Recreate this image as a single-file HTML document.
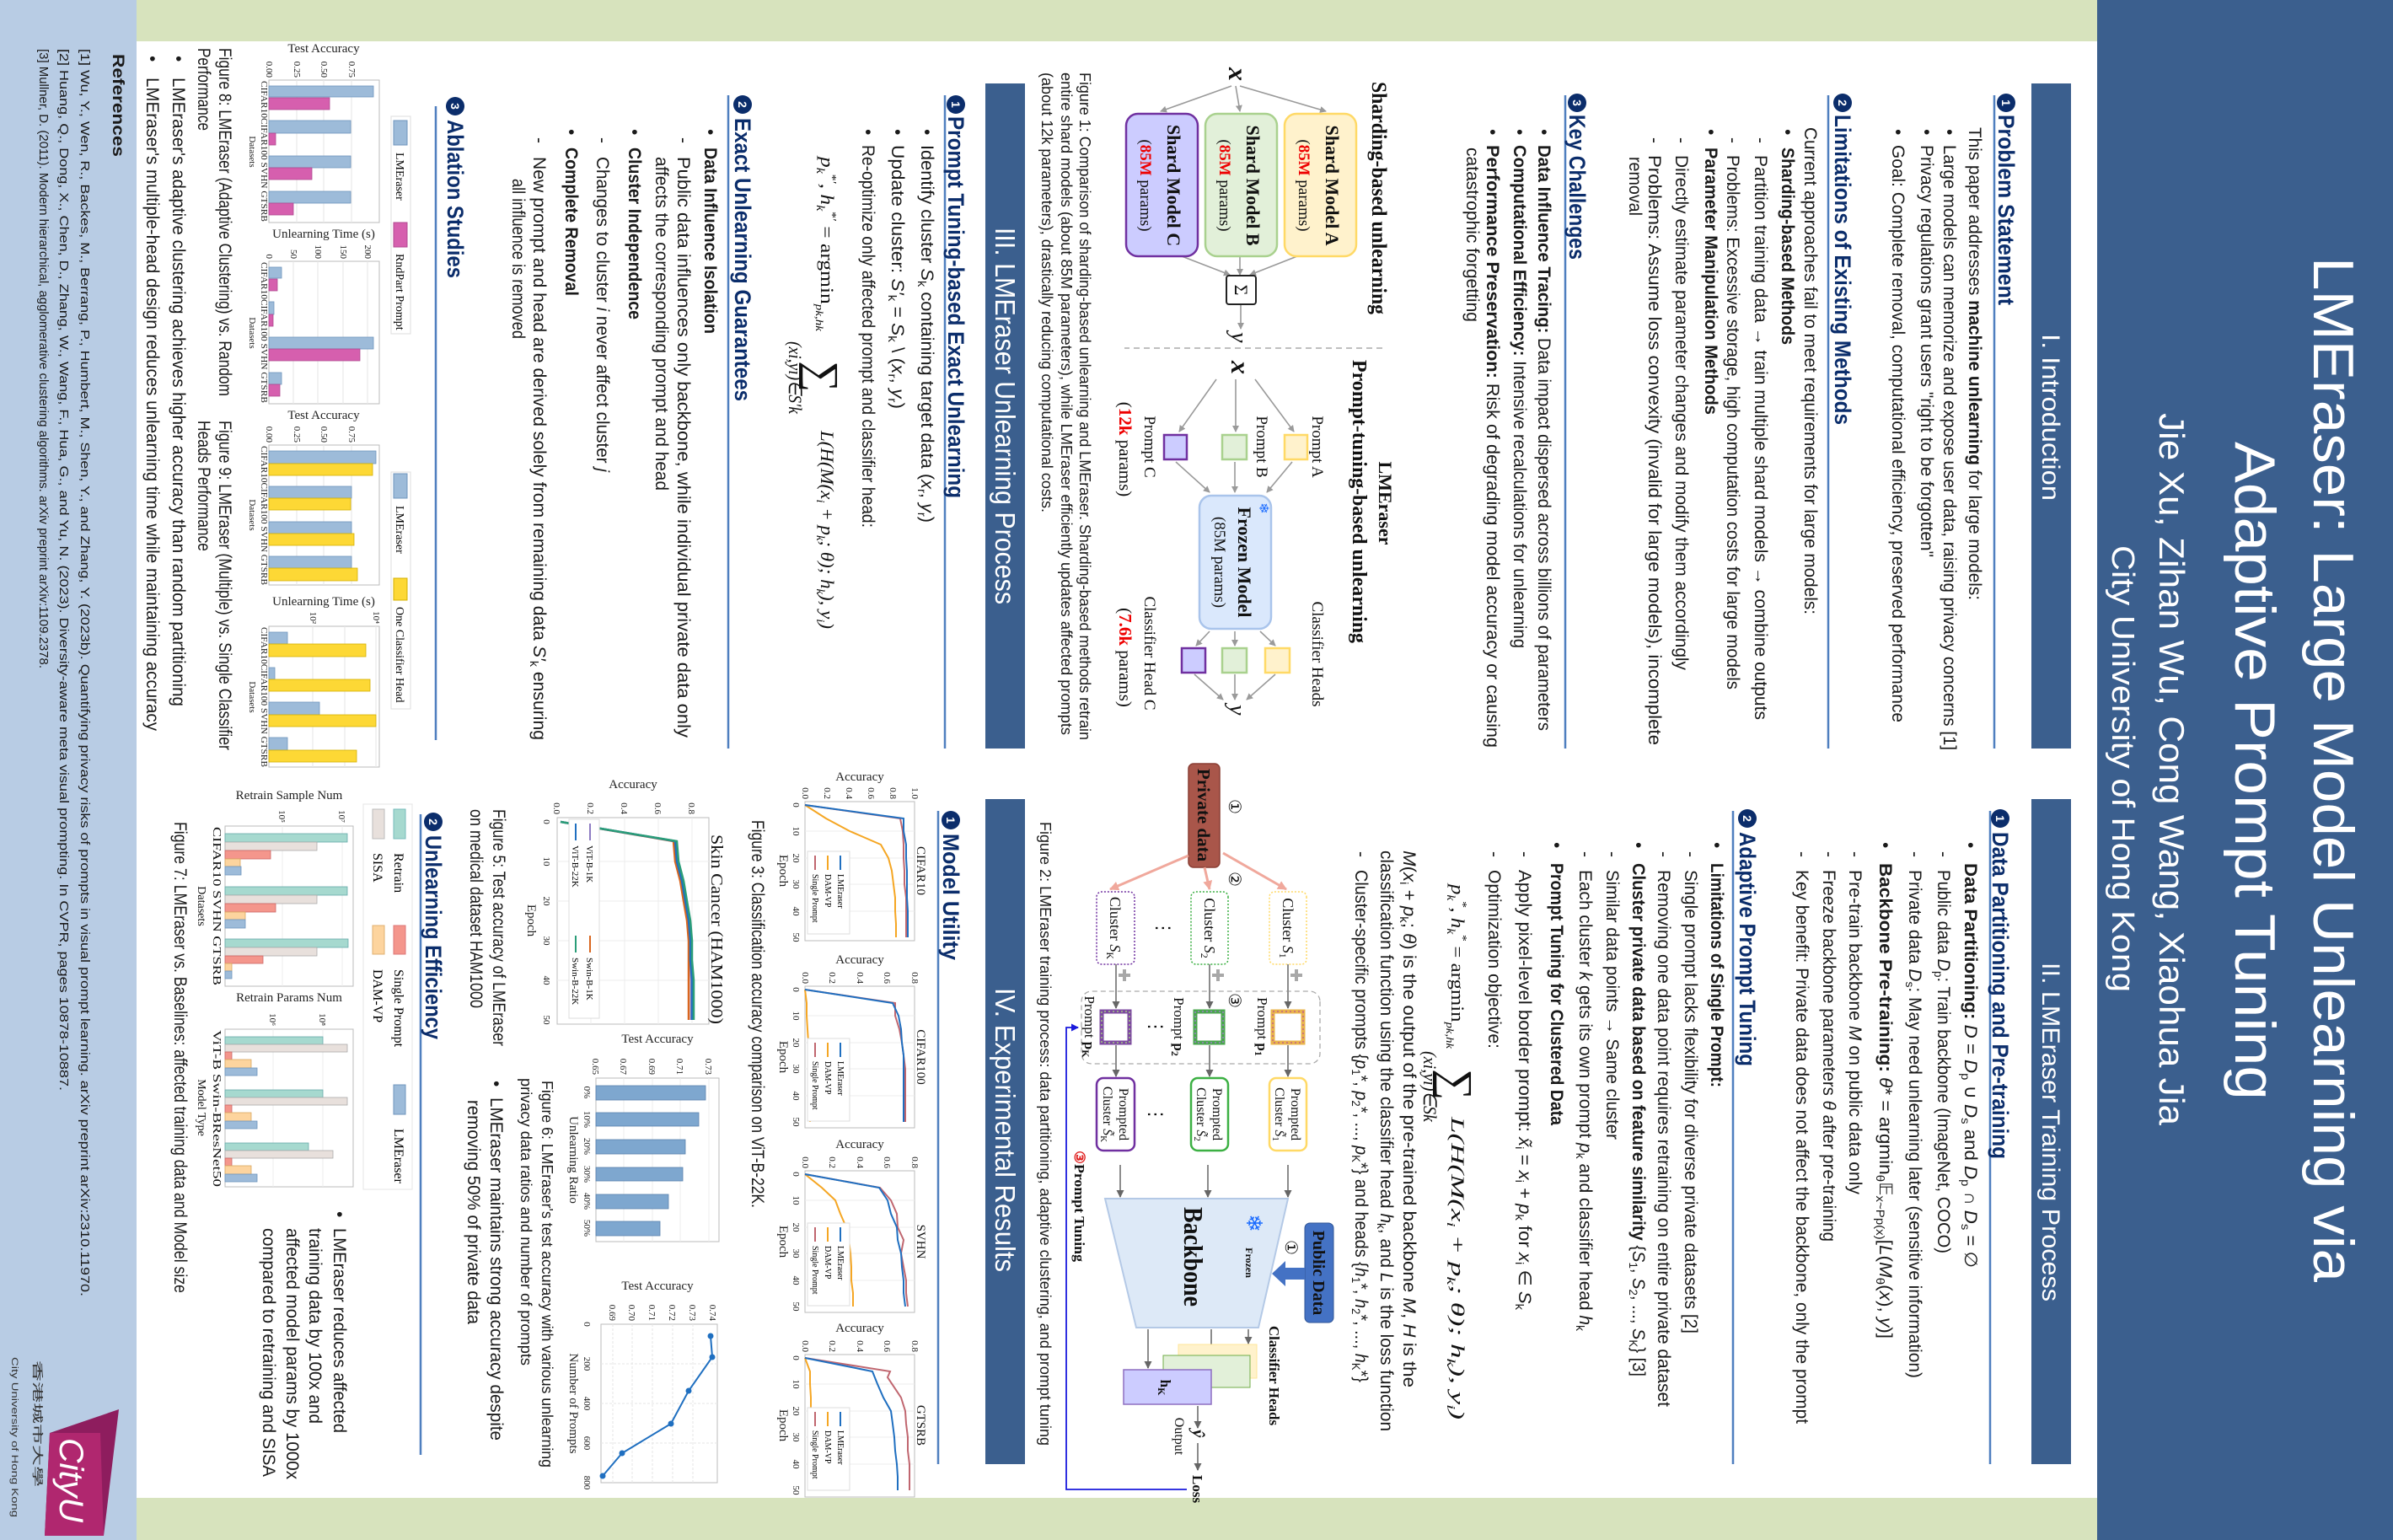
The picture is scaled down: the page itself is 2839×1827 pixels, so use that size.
<!DOCTYPE html>
<html><head><meta charset="utf-8"><style>
html,body{margin:0;padding:0;background:#fff}
svg{display:block}
.b{font-family:"Liberation Sans",sans-serif;font-size:21px;fill:#1a1a1a}
.bb{font-family:"Liberation Sans",sans-serif;font-size:21px;fill:#1a1a1a;font-weight:bold}
.h{font-family:"Liberation Sans",sans-serif;font-size:27px;font-weight:bold;fill:#0b2d6b}
.cap{font-family:"Liberation Sans",sans-serif;font-size:18px;fill:#1a1a1a}
.sr{font-family:"Liberation Serif",serif;fill:#111}
.m{font-family:"Liberation Serif",serif;font-style:italic;font-size:22px;fill:#111}
.tk{font-family:"Liberation Serif",serif;font-size:11px;fill:#222}
.ax{font-family:"Liberation Serif",serif;font-size:15px;fill:#222}
.hn{font-family:"Liberation Sans",sans-serif;font-size:14px;font-weight:bold;fill:#fff}
</style></head><body>
<svg width="2839" height="1827" viewBox="0 0 2839 1827" xmlns="http://www.w3.org/2000/svg">
<defs>
<marker id="ag" markerWidth="8" markerHeight="8" refX="7" refY="4" orient="auto" markerUnits="userSpaceOnUse"><path d="M0,0 L8,4 L0,8 z" fill="#9a9a9a"/></marker>
<marker id="ak" markerWidth="9" markerHeight="9" refX="8" refY="4.5" orient="auto" markerUnits="userSpaceOnUse"><path d="M0,0 L9,4.5 L0,9 z" fill="#666"/></marker>
<marker id="ar" markerWidth="11" markerHeight="11" refX="10" refY="5.5" orient="auto" markerUnits="userSpaceOnUse"><path d="M0,0 L11,5.5 L0,11 z" fill="#f0a89c"/></marker>
<marker id="ab" markerWidth="9" markerHeight="9" refX="8" refY="4.5" orient="auto" markerUnits="userSpaceOnUse"><path d="M0,0 L9,4.5 L0,9 z" fill="#1a1adc"/></marker>
</defs>
<g transform="translate(2839,0) rotate(90)">
<rect x="0" y="0" width="1827" height="2839" fill="#fff"/>
<rect x="0" y="0" width="1827" height="351" fill="#3b5f8e"/>
<rect x="0" y="351" width="49" height="2326" fill="#d7e3bd"/>
<rect x="1777" y="351" width="50" height="2326" fill="#d7e3bd"/>
<rect x="0" y="2677" width="1827" height="162" fill="#b8cce4"/>

<g fill="#fff" font-family="Liberation Sans, sans-serif">
<text x="305" y="94" font-size="68" textLength="1216" lengthAdjust="spacingAndGlyphs">LMEraser: Large Model Unlearning via</text>
<text x="524" y="187" font-size="68" textLength="781" lengthAdjust="spacingAndGlyphs">Adaptive Prompt Tuning</text>
<text x="490" y="277" font-size="42" textLength="845" lengthAdjust="spacingAndGlyphs">Jie Xu, Zihan Wu, Cong Wang, Xiaohua Jia</text>
<text x="647" y="333" font-size="38" textLength="530" lengthAdjust="spacingAndGlyphs">City University of Hong Kong</text>
</g>

<rect x="99" y="382" width="789" height="47" fill="#3b5f8e"/>
<rect x="948" y="382" width="789" height="47" fill="#3b5f8e"/>
<rect x="99" y="1623" width="789" height="47" fill="#3b5f8e"/>
<rect x="948" y="1623" width="789" height="47" fill="#3b5f8e"/>
<g fill="#fff" font-family="Liberation Sans, sans-serif" font-size="30">
<text x="396" y="416" textLength="198" lengthAdjust="spacingAndGlyphs">I. Introduction</text>
<text x="1142" y="416" textLength="402" lengthAdjust="spacingAndGlyphs">II. LMEraser Training Process</text>
<text x="270" y="1658" font-size="33" textLength="447" lengthAdjust="spacingAndGlyphs">III. LMEraser Unlearning Process</text>
<text x="1172" y="1658" font-size="33" textLength="337" lengthAdjust="spacingAndGlyphs">IV. Experimental Results</text>
</g>

<g stroke="#4f7fbf" stroke-width="2.5">
<line x1="113" y1="473" x2="888" y2="473"/><line x1="113" y1="670" x2="888" y2="670"/><line x1="113" y1="982" x2="888" y2="982"/>
<line x1="113" y1="1718" x2="888" y2="1718"/><line x1="113" y1="1975" x2="888" y2="1975"/><line x1="126" y1="2322" x2="878" y2="2322"/>
<line x1="962" y1="478" x2="1737" y2="478"/><line x1="962" y1="783" x2="1737" y2="783"/><line x1="962" y1="1726" x2="1737" y2="1726"/><line x1="966" y1="2340" x2="1726" y2="2340"/>
</g>
<g fill="#0b2d6b">
<circle cx="122" cy="459" r="11"/><circle cx="122" cy="653" r="11"/><circle cx="122" cy="968" r="11"/>
<circle cx="124" cy="1705" r="11"/><circle cx="124" cy="1958" r="11"/><circle cx="126" cy="2299" r="11"/>
<circle cx="971" cy="466" r="11"/><circle cx="971" cy="766" r="11"/><circle cx="973" cy="1711" r="11"/><circle cx="975" cy="2325" r="11"/>
</g>
<g class="hn" text-anchor="middle">
<text x="122" y="464" class="hn">1</text><text x="122" y="658" class="hn">2</text><text x="122" y="973" class="hn">3</text>
<text x="124" y="1710" class="hn">1</text><text x="124" y="1963" class="hn">2</text><text x="126" y="2304" class="hn">3</text>
<text x="971" y="471" class="hn">1</text><text x="971" y="771" class="hn">2</text><text x="973" y="1716" class="hn">1</text><text x="975" y="2330" class="hn">2</text>
</g>
<text class="h" x="136" y="468" textLength="226" lengthAdjust="spacingAndGlyphs">Problem Statement</text>
<text class="h" x="136" y="662" textLength="368" lengthAdjust="spacingAndGlyphs">Limitations of Existing Methods</text>
<text class="h" x="136" y="977" textLength="172" lengthAdjust="spacingAndGlyphs">Key Challenges</text>
<text class="h" x="138" y="1714" textLength="453" lengthAdjust="spacingAndGlyphs">Prompt Tuning-based Exact Unlearning</text>
<text class="h" x="140" y="1967" textLength="336" lengthAdjust="spacingAndGlyphs">Exact Unlearning Guarantees</text>
<text class="h" x="142" y="2308" textLength="188" lengthAdjust="spacingAndGlyphs">Ablation Studies</text>
<text class="h" x="987" y="475" textLength="388" lengthAdjust="spacingAndGlyphs">Data Partitioning and Pre-training</text>
<text class="h" x="987" y="775" textLength="278" lengthAdjust="spacingAndGlyphs">Adaptive Prompt Tuning</text>
<text class="h" x="989" y="1720" textLength="150" lengthAdjust="spacingAndGlyphs">Model Utility</text>
<text class="h" x="991" y="2334" textLength="242" lengthAdjust="spacingAndGlyphs">Unlearning Efficiency</text>

<text class="b" x="151" y="503" textLength="561" lengthAdjust="spacingAndGlyphs">This paper addresses <tspan font-weight="bold">machine unlearning</tspan> for large models:</text>
<text class="b" x="153" y="533">•</text><text class="b" x="172" y="533" textLength="718" lengthAdjust="spacingAndGlyphs">Large models can memorize and expose user data, raising privacy concerns [1]</text>
<text class="b" x="153" y="560">•</text><text class="b" x="172" y="560" textLength="489" lengthAdjust="spacingAndGlyphs">Privacy regulations grant users "right to be forgotten"</text>
<text class="b" x="153" y="594">•</text><text class="b" x="172" y="594" textLength="685" lengthAdjust="spacingAndGlyphs">Goal: Complete removal, computational efficiency, preserved performance</text>
<text class="b" x="151" y="698" textLength="578" lengthAdjust="spacingAndGlyphs">Current approaches fail to meet requirements for large models:</text>
<text class="b" x="153" y="725">•</text><text class="bb" x="175" y="725" textLength="234" lengthAdjust="spacingAndGlyphs">Sharding-based Methods</text>
<text class="b" x="163" y="757">-</text><text class="b" x="184" y="757" textLength="670" lengthAdjust="spacingAndGlyphs">Partition training data → train multiple shard models → combine outputs</text>
<text class="b" x="163" y="790">-</text><text class="b" x="184" y="790" textLength="634" lengthAdjust="spacingAndGlyphs">Problems: Excessive storage, high computation costs for large models</text>
<text class="b" x="153" y="816">•</text><text class="bb" x="175" y="816" textLength="317" lengthAdjust="spacingAndGlyphs">Parameter Manipulation Methods</text>
<text class="b" x="163" y="851">-</text><text class="b" x="184" y="851" textLength="611" lengthAdjust="spacingAndGlyphs">Directly estimate parameter changes and modify them accordingly</text>
<text class="b" x="163" y="883">-</text><text class="b" x="184" y="883" textLength="700" lengthAdjust="spacingAndGlyphs">Problems:  Assume  loss  convexity  (invalid  for  large  models),  incomplete</text>
<text class="b" x="186" y="906" textLength="70" lengthAdjust="spacingAndGlyphs">removal</text>
<text class="b" x="153" y="1014">•</text><text class="b" x="172" y="1014" textLength="695" lengthAdjust="spacingAndGlyphs"><tspan font-weight="bold">Data Influence Tracing:</tspan> Data impact dispersed across billions of parameters</text>
<text class="b" x="153" y="1043">•</text><text class="b" x="172" y="1043" textLength="597" lengthAdjust="spacingAndGlyphs"><tspan font-weight="bold">Computational Efficiency:</tspan> Intensive recalculations for unlearning</text>
<text class="b" x="153" y="1075">•</text><text class="b" x="172" y="1075" textLength="715" lengthAdjust="spacingAndGlyphs"><tspan font-weight="bold">Performance  Preservation:</tspan>  Risk  of  degrading  model  accuracy  or  causing</text>
<text class="b" x="175" y="1099" textLength="207" lengthAdjust="spacingAndGlyphs">catastrophic forgetting</text>

<!-- Figure 1 -->
<text class="sr" x="97" y="1211" font-size="25" font-weight="bold" textLength="276" lengthAdjust="spacingAndGlyphs">Sharding-based unlearning</text>
<text class="sr" x="597" y="1203" font-size="22" font-weight="bold" text-anchor="middle">LMEraser</text>
<text class="sr" x="427" y="1234" font-size="24" font-weight="bold" textLength="336" lengthAdjust="spacingAndGlyphs">Prompt-tuning-based unlearning</text>
<line x1="413" y1="1199" x2="413" y2="1505" stroke="#aaa" stroke-width="1.5" stroke-dasharray="7,5"/>
<text class="sr" x="80" y="1381" font-size="32" font-style="italic" font-weight="bold">x</text>
<g stroke="#9a9a9a" stroke-width="1.6" fill="none" marker-end="url(#ag)">
<line x1="102" y1="1368" x2="132" y2="1266"/><line x1="102" y1="1373" x2="132" y2="1368"/><line x1="102" y1="1378" x2="132" y2="1462"/>
<line x1="304" y1="1300" x2="326" y2="1356"/><line x1="304" y1="1368" x2="326" y2="1368"/><line x1="304" y1="1437" x2="326" y2="1380"/>
<line x1="361" y1="1367" x2="390" y2="1367"/>
</g>
<rect x="135" y="1230" width="169" height="85" rx="14" fill="#fff2cc" stroke="#ffd966" stroke-width="2.5"/>
<rect x="135" y="1324" width="169" height="85" rx="14" fill="#e2f0d9" stroke="#a9d18e" stroke-width="2.5"/>
<rect x="135" y="1418" width="169" height="85" rx="14" fill="#ccccff" stroke="#7030a0" stroke-width="2.5"/>
<g class="sr" text-anchor="middle">
<text x="220" y="1266" font-size="22" font-weight="bold">Shard Model A</text><text x="220" y="1298" font-size="19">(<tspan fill="#e00" font-weight="bold">85M</tspan> params)</text>
<text x="220" y="1360" font-size="22" font-weight="bold">Shard Model B</text><text x="220" y="1392" font-size="19">(<tspan fill="#e00" font-weight="bold">85M</tspan> params)</text>
<text x="220" y="1454" font-size="22" font-weight="bold">Shard Model C</text><text x="220" y="1486" font-size="19">(<tspan fill="#e00" font-weight="bold">85M</tspan> params)</text>
</g>
<rect x="327" y="1349" width="34" height="35" rx="3" fill="#fff" stroke="#222" stroke-width="2"/>
<text class="sr" x="344" y="1374" font-size="22" text-anchor="middle">Σ</text>
<text class="sr" x="394" y="1378" font-size="28" font-style="italic">y</text>
<text class="sr" x="428" y="1378" font-size="32" font-style="italic" font-weight="bold">x</text>
<g stroke="#9a9a9a" stroke-width="1.6" fill="none" marker-end="url(#ag)">
<line x1="450" y1="1350" x2="512" y2="1304"/><line x1="450" y1="1373" x2="512" y2="1373"/><line x1="450" y1="1396" x2="512" y2="1440"/>
<line x1="548" y1="1306" x2="584" y2="1336"/><line x1="548" y1="1374" x2="584" y2="1374"/><line x1="548" y1="1444" x2="584" y2="1404"/>
<line x1="749" y1="1344" x2="766" y2="1326"/><line x1="749" y1="1374" x2="766" y2="1374"/><line x1="749" y1="1404" x2="766" y2="1420"/>
<line x1="800" y1="1326" x2="830" y2="1360"/><line x1="800" y1="1374" x2="830" y2="1374"/><line x1="800" y1="1422" x2="830" y2="1388"/>
</g>
<rect x="516" y="1288" width="29" height="27" fill="#fff2cc" stroke="#ffd966" stroke-width="2.5"/>
<rect x="516" y="1360" width="29" height="29" fill="#e2f0d9" stroke="#a9d18e" stroke-width="2.5"/>
<rect x="516" y="1431" width="29" height="27" fill="#ccccff" stroke="#7030a0" stroke-width="2.5"/>
<text class="sr" x="530" y="1282" font-size="19" text-anchor="middle">Prompt A</text>
<text class="sr" x="530" y="1348" font-size="19" text-anchor="middle">Prompt B</text>
<text class="sr" x="530" y="1481" font-size="19" text-anchor="middle">Prompt C</text>
<text class="sr" x="533" y="1511" font-size="21" text-anchor="middle">(<tspan fill="#e00" font-weight="bold">12k</tspan> params)</text>
<rect x="588" y="1331" width="158" height="85" rx="14" fill="#dae8fc" stroke="#a9c4eb" stroke-width="2.5"/>
<text x="603" y="1345" font-size="16" fill="#1a6bff" text-anchor="middle">❄</text>
<text class="sr" x="667" y="1370" font-size="22" font-weight="bold" text-anchor="middle">Frozen Model</text>
<text class="sr" x="667" y="1398" font-size="19" text-anchor="middle">(85M params)</text>
<rect x="769" y="1309" width="29" height="29" fill="#fff2cc" stroke="#ffd966" stroke-width="2.5"/>
<rect x="769" y="1360" width="29" height="29" fill="#e2f0d9" stroke="#a9d18e" stroke-width="2.5"/>
<rect x="769" y="1409" width="29" height="28" fill="#ccccff" stroke="#7030a0" stroke-width="2.5"/>
<text class="sr" x="776" y="1282" font-size="19" text-anchor="middle">Classifier Heads</text>
<text class="sr" x="836" y="1380" font-size="28" font-style="italic">y</text>
<text class="sr" x="775" y="1481" font-size="19" text-anchor="middle">Classifier Head C</text>
<text class="sr" x="780" y="1511" font-size="21" text-anchor="middle">(<tspan fill="#e00" font-weight="bold">7.6k</tspan> params)</text>
<text class="cap" x="86" y="1558" textLength="792" lengthAdjust="spacingAndGlyphs">Figure 1: Comparison of sharding-based unlearning and LMEraser. Sharding-based methods retrain</text>
<text class="cap" x="86" y="1580" textLength="786" lengthAdjust="spacingAndGlyphs">entire shard models (about 85M parameters), while LMEraser efficiently updates affected prompts</text>
<text class="cap" x="86" y="1603" textLength="522" lengthAdjust="spacingAndGlyphs">(about 12k parameters), drastically reducing computational costs.</text>

<text class="b" x="153" y="1746">•</text><text class="b" x="172" y="1746" textLength="448" lengthAdjust="spacingAndGlyphs">Identify cluster <tspan font-style="italic">S</tspan><tspan font-size="14" dy="4">k</tspan><tspan dy="-4"> containing target data (</tspan><tspan font-style="italic">x</tspan><tspan font-size="14" dy="4">r</tspan><tspan dy="-4">, </tspan><tspan font-style="italic">y</tspan><tspan font-size="14" dy="4">r</tspan><tspan dy="-4">)</tspan></text>
<text class="b" x="153" y="1781">•</text><text class="b" x="172" y="1781" textLength="313" lengthAdjust="spacingAndGlyphs">Update cluster: <tspan font-style="italic">S′</tspan><tspan font-size="14" dy="4">k</tspan><tspan dy="-4"> = </tspan><tspan font-style="italic">S</tspan><tspan font-size="14" dy="4">k</tspan><tspan dy="-4"> \ (</tspan><tspan font-style="italic">x</tspan><tspan font-size="14" dy="4">r</tspan><tspan dy="-4">, </tspan><tspan font-style="italic">y</tspan><tspan font-size="14" dy="4">r</tspan><tspan dy="-4">)</tspan></text>
<text class="b" x="153" y="1816">•</text><text class="b" x="172" y="1816" textLength="454" lengthAdjust="spacingAndGlyphs">Re-optimize only affected prompt and classifier head:</text>
<text class="m" x="186" y="1865" textLength="207" lengthAdjust="spacingAndGlyphs">p<tspan font-size="14" dy="5">k</tspan><tspan font-size="14" dy="-14">*′</tspan><tspan dy="9">, h</tspan><tspan font-size="14" dy="5">k</tspan><tspan font-size="14" dy="-14">*′</tspan><tspan dy="9" font-style="normal"> = argmin</tspan><tspan font-size="13" dy="6">pk,hk</tspan></text>
<text class="sr" x="428" y="1880" font-size="52">∑</text>
<text class="m" x="405" y="1903" font-size="13" textLength="86" lengthAdjust="spacingAndGlyphs">(xi,yi)∈S′k</text>
<text class="m" x="511" y="1865" textLength="235" lengthAdjust="spacingAndGlyphs">L(H(M(x<tspan font-size="14" dy="5">i</tspan><tspan dy="-5"> + p</tspan><tspan font-size="14" dy="5">k</tspan><tspan dy="-5">; θ); h</tspan><tspan font-size="14" dy="5">k</tspan><tspan dy="-5">), y</tspan><tspan font-size="14" dy="5">i</tspan><tspan dy="-5">)</tspan></text>

<text class="b" x="153" y="2003">•</text><text class="bb" x="175" y="2003" textLength="221" lengthAdjust="spacingAndGlyphs">Data Influence Isolation</text>
<text class="b" x="163" y="2035">-</text><text class="b" x="186" y="2035" textLength="689" lengthAdjust="spacingAndGlyphs">Public  data  influences  only  backbone,  while  individual  private  data  only</text>
<text class="b" x="186" y="2061" textLength="396" lengthAdjust="spacingAndGlyphs">affects the corresponding prompt and head</text>
<text class="b" x="153" y="2093">•</text><text class="bb" x="175" y="2093" textLength="204" lengthAdjust="spacingAndGlyphs">Cluster Independence</text>
<text class="b" x="163" y="2131">-</text><text class="b" x="186" y="2131" textLength="374" lengthAdjust="spacingAndGlyphs">Changes to cluster <tspan font-style="italic">i</tspan> never affect cluster <tspan font-style="italic">j</tspan></text>
<text class="b" x="153" y="2168">•</text><text class="bb" x="175" y="2168" textLength="176" lengthAdjust="spacingAndGlyphs">Complete Removal</text>
<text class="b" x="163" y="2206">-</text><text class="b" x="186" y="2206" textLength="692" lengthAdjust="spacingAndGlyphs">New prompt and head are derived solely from remaining data <tspan font-style="italic">S′</tspan><tspan font-size="14" dy="4">k</tspan><tspan dy="-4"> ensuring</tspan></text>
<text class="b" x="212" y="2231" textLength="190" lengthAdjust="spacingAndGlyphs">all influence is removed</text>

<!-- Fig 8/9 -->
<g font-family="Liberation Serif, serif">
<rect x="138" y="2352" width="258" height="23" fill="#fff" stroke="#ddd"/>
<rect x="143" y="2356" width="29" height="16" fill="#9dbbd9" stroke="#6f95bd"/><text x="181" y="2369" font-size="14">LMEraser</text>
<rect x="264" y="2356" width="29" height="16" fill="#d65fae" stroke="#b04890"/><text x="301" y="2369" font-size="14">RndPart Prompt</text>
<rect x="560" y="2352" width="281" height="23" fill="#fff" stroke="#ddd"/>
<rect x="562" y="2356" width="29" height="16" fill="#9dbbd9" stroke="#6f95bd"/><text x="600" y="2369" font-size="14">LMEraser</text>
<rect x="686" y="2356" width="26" height="16" fill="#fdd835" stroke="#d4b000"/><text x="720" y="2369" font-size="14">One Classifier Head</text>
</g>
<g fill="none" stroke="#bbb" stroke-width="1">
<rect x="95" y="2389" width="169" height="131"/><rect x="310" y="2389" width="169" height="131"/>
<rect x="528" y="2389" width="166" height="131"/><rect x="743" y="2389" width="167" height="131"/>
</g>
<g stroke="#e6e6e6" stroke-width="1">
<line x1="95" y1="2487" x2="264" y2="2487"/><line x1="95" y1="2455" x2="264" y2="2455"/><line x1="95" y1="2422" x2="264" y2="2422"/>
<line x1="310" y1="2491" x2="479" y2="2491"/><line x1="310" y1="2462" x2="479" y2="2462"/><line x1="310" y1="2432" x2="479" y2="2432"/><line x1="310" y1="2403" x2="479" y2="2403"/>
<line x1="528" y1="2487" x2="694" y2="2487"/><line x1="528" y1="2455" x2="694" y2="2455"/><line x1="528" y1="2422" x2="694" y2="2422"/>
<line x1="743" y1="2468" x2="910" y2="2468"/><line x1="743" y1="2430" x2="910" y2="2430"/><line x1="743" y1="2393" x2="910" y2="2393"/>
</g>
<g stroke="#6f95bd" stroke-width="0.8" fill="#9dbbd9">
<rect x="102" y="2396" width="13" height="124"/><rect x="143" y="2423" width="15" height="97"/><rect x="185" y="2423" width="14" height="97"/><rect x="227" y="2423" width="14" height="97"/>
<rect x="317" y="2505" width="13" height="15"/><rect x="358" y="2514" width="15" height="6"/><rect x="400" y="2396" width="14" height="124"/><rect x="442" y="2505" width="14" height="15"/>
<rect x="535" y="2393" width="15" height="127"/><rect x="577" y="2422" width="14" height="98"/><rect x="619" y="2422" width="14" height="98"/><rect x="660" y="2422" width="14" height="98"/>
<rect x="750" y="2498" width="14" height="22"/><rect x="792" y="2513" width="14" height="7"/><rect x="833" y="2460" width="15" height="60"/><rect x="875" y="2498" width="15" height="22"/>
</g>
<g fill="#d65fae" stroke="#b04890" stroke-width="0.8">
<rect x="116" y="2448" width="14" height="72"/><rect x="158" y="2512" width="14" height="8"/><rect x="199" y="2469" width="14" height="51"/><rect x="241" y="2491" width="14" height="29"/>
<rect x="331" y="2510" width="14" height="10"/><rect x="373" y="2515" width="14" height="5"/><rect x="414" y="2412" width="14" height="108"/><rect x="456" y="2507" width="14" height="13"/>
</g>
<g fill="#fdd835" stroke="#d4b000" stroke-width="0.8">
<rect x="550" y="2397" width="14" height="123"/><rect x="591" y="2423" width="14" height="97"/><rect x="633" y="2419" width="14" height="101"/><rect x="674" y="2415" width="15" height="105"/>
<rect x="764" y="2405" width="15" height="115"/><rect x="806" y="2400" width="14" height="120"/><rect x="848" y="2393" width="14" height="127"/><rect x="890" y="2416" width="14" height="104"/>
</g>
<g class="tk" text-anchor="end">
<text x="92" y="2523">0.00</text><text x="92" y="2490">0.25</text><text x="92" y="2458">0.50</text><text x="92" y="2425">0.75</text>
<text x="307" y="2523">0</text><text x="307" y="2494">50</text><text x="307" y="2465">100</text><text x="307" y="2435">150</text><text x="307" y="2406">200</text>
<text x="525" y="2523">0.00</text><text x="525" y="2490">0.25</text><text x="525" y="2458">0.50</text><text x="525" y="2425">0.75</text>
<text x="740" y="2471">10²</text><text x="740" y="2396">10⁴</text>
</g>
<g class="tk" font-size="9">
<text x="96" y="2529" textLength="167" lengthAdjust="spacingAndGlyphs">CIFAR10CIFAR100  SVHN   GTSRB</text>
<text x="311" y="2529" textLength="167" lengthAdjust="spacingAndGlyphs">CIFAR10CIFAR100  SVHN   GTSRB</text>
<text x="529" y="2529" textLength="165" lengthAdjust="spacingAndGlyphs">CIFAR10CIFAR100  SVHN   GTSRB</text>
<text x="744" y="2529" textLength="166" lengthAdjust="spacingAndGlyphs">CIFAR10CIFAR100  SVHN   GTSRB</text>
</g>
<g class="tk" font-size="12" text-anchor="middle">
<text x="180" y="2543">Datasets</text><text x="395" y="2543">Datasets</text><text x="611" y="2543">Datasets</text><text x="827" y="2543">Datasets</text>
</g>
<g class="ax" text-anchor="middle">
<text transform="rotate(-90 62 2455)" x="62" y="2455">Test Accuracy</text>
<text transform="rotate(-90 282 2455)" x="282" y="2455">Unlearning Time (s)</text>
<text transform="rotate(-90 497 2455)" x="497" y="2455">Test Accuracy</text>
<text transform="rotate(-90 718 2455)" x="718" y="2455">Unlearning Time (s)</text>
</g>
<text class="b" x="57" y="2579" font-size="20" textLength="413" lengthAdjust="spacingAndGlyphs">Figure 8: LMEraser (Adaptive Clustering) vs. Random</text>
<text class="b" x="57" y="2604" font-size="20" textLength="98" lengthAdjust="spacingAndGlyphs">Performance</text>
<text class="b" x="499" y="2579" font-size="20" textLength="391" lengthAdjust="spacingAndGlyphs">Figure 9: LMEraser (Multiple) vs. Single Classifier</text>
<text class="b" x="499" y="2604" font-size="20" textLength="155" lengthAdjust="spacingAndGlyphs">Heads Performance</text>
<text class="b" x="66" y="2634">•</text><text class="b" x="92" y="2634" textLength="746" lengthAdjust="spacingAndGlyphs">LMEraser's adaptive clustering achieves higher accuracy than random partitioning</text>
<text class="b" x="66" y="2665">•</text><text class="b" x="92" y="2665" textLength="775" lengthAdjust="spacingAndGlyphs">LMEraser's multiple-head design reduces unlearning time while maintaining accuracy</text>

<!-- RIGHT COLUMN -->
<text class="b" x="999" y="508">•</text><text class="b" x="1024" y="508" textLength="480" lengthAdjust="spacingAndGlyphs"><tspan font-weight="bold">Data Partitioning:</tspan>    <tspan font-style="italic">D</tspan> = <tspan font-style="italic">D</tspan><tspan font-size="14" dy="4">p</tspan><tspan dy="-4"> ∪ </tspan><tspan font-style="italic">D</tspan><tspan font-size="14" dy="4">s</tspan><tspan dy="-4"> and </tspan><tspan font-style="italic">D</tspan><tspan font-size="14" dy="4">p</tspan><tspan dy="-4"> ∩ </tspan><tspan font-style="italic">D</tspan><tspan font-size="14" dy="4">s</tspan><tspan dy="-4"> = ∅</tspan></text>
<text class="b" x="1010" y="540">-</text><text class="b" x="1032" y="540" textLength="455" lengthAdjust="spacingAndGlyphs">Public data <tspan font-style="italic">D</tspan><tspan font-size="14" dy="4">p</tspan><tspan dy="-4">: Train backbone (ImageNet, COCO)</tspan></text>
<text class="b" x="1010" y="574">-</text><text class="b" x="1032" y="574" textLength="603" lengthAdjust="spacingAndGlyphs">Private data <tspan font-style="italic">D</tspan><tspan font-size="14" dy="4">s</tspan><tspan dy="-4">: May need unlearning later (sensitive information)</tspan></text>
<text class="b" x="999" y="609">•</text><text class="b" x="1024" y="609" textLength="564" lengthAdjust="spacingAndGlyphs"><tspan font-weight="bold">Backbone Pre-training:</tspan> <tspan font-style="italic">θ</tspan>* = argmin<tspan font-size="14" dy="4">θ</tspan><tspan dy="-4">𝔼</tspan><tspan font-size="14" dy="4">x~Pp(x)</tspan><tspan dy="-4">[</tspan><tspan font-style="italic">L</tspan>(<tspan font-style="italic">M</tspan><tspan font-size="14" dy="4">θ</tspan><tspan dy="-4">(</tspan><tspan font-style="italic">x</tspan>), <tspan font-style="italic">y</tspan>)]</text>
<text class="b" x="1010" y="645">-</text><text class="b" x="1032" y="645" textLength="385" lengthAdjust="spacingAndGlyphs">Pre-train backbone <tspan font-style="italic">M</tspan> on public data only</text>
<text class="b" x="1010" y="676">-</text><text class="b" x="1032" y="676" textLength="441" lengthAdjust="spacingAndGlyphs">Freeze backbone parameters <tspan font-style="italic">θ</tspan> after pre-training</text>
<text class="b" x="1010" y="708">-</text><text class="b" x="1032" y="708" textLength="657" lengthAdjust="spacingAndGlyphs">Key benefit: Private data does not affect the backbone, only the prompt</text>
<text class="b" x="999" y="809">•</text><text class="bb" x="1024" y="809" textLength="266" lengthAdjust="spacingAndGlyphs">Limitations of Single Prompt:</text>
<text class="b" x="1010" y="840">-</text><text class="b" x="1032" y="840" textLength="550" lengthAdjust="spacingAndGlyphs">Single prompt lacks flexibility for diverse private datasets [2]</text>
<text class="b" x="1010" y="872">-</text><text class="b" x="1032" y="872" textLength="637" lengthAdjust="spacingAndGlyphs">Removing one data point requires retraining on entire private dataset</text>
<text class="b" x="999" y="902">•</text><text class="b" x="1024" y="902" textLength="609" lengthAdjust="spacingAndGlyphs"><tspan font-weight="bold">Cluster private data based on feature similarity</tspan>  {<tspan font-style="italic">S</tspan><tspan font-size="14" dy="4">1</tspan><tspan dy="-4">, </tspan><tspan font-style="italic">S</tspan><tspan font-size="14" dy="4">2</tspan><tspan dy="-4">, ..., </tspan><tspan font-style="italic">S</tspan><tspan font-size="14" dy="4">K</tspan><tspan dy="-4">} [3]</tspan></text>
<text class="b" x="1010" y="933">-</text><text class="b" x="1032" y="933" textLength="320" lengthAdjust="spacingAndGlyphs">Similar data points → Same cluster</text>
<text class="b" x="1010" y="965">-</text><text class="b" x="1032" y="965" textLength="547" lengthAdjust="spacingAndGlyphs">Each cluster <tspan font-style="italic">k</tspan> gets its own prompt <tspan font-style="italic">p</tspan><tspan font-size="14" dy="4">k</tspan><tspan dy="-4"> and classifier head </tspan><tspan font-style="italic">h</tspan><tspan font-size="14" dy="4">k</tspan></text>
<text class="b" x="999" y="999">•</text><text class="bb" x="1024" y="999" textLength="311" lengthAdjust="spacingAndGlyphs">Prompt Tuning for Clustered Data</text>
<text class="b" x="1010" y="1037">-</text><text class="b" x="1032" y="1037" textLength="522" lengthAdjust="spacingAndGlyphs">Apply pixel-level border prompt: <tspan font-style="italic">x̃</tspan><tspan font-size="14" dy="4">i</tspan><tspan dy="-4"> = </tspan><tspan font-style="italic">x</tspan><tspan font-size="14" dy="4">i</tspan><tspan dy="-4"> + </tspan><tspan font-style="italic">p</tspan><tspan font-size="14" dy="4">k</tspan><tspan dy="-4"> for </tspan><tspan font-style="italic">x</tspan><tspan font-size="14" dy="4">i</tspan><tspan dy="-4"> ∈ </tspan><tspan font-style="italic">S</tspan><tspan font-size="14" dy="4">k</tspan></text>
<text class="b" x="1010" y="1073">-</text><text class="b" x="1032" y="1073" textLength="212" lengthAdjust="spacingAndGlyphs">Optimization objective:</text>
<text class="m" x="1049" y="1117" textLength="195" lengthAdjust="spacingAndGlyphs">p<tspan font-size="14" dy="5">k</tspan><tspan font-size="14" dy="-14">*</tspan><tspan dy="9">, h</tspan><tspan font-size="14" dy="5">k</tspan><tspan font-size="14" dy="-14">*</tspan><tspan dy="9" font-style="normal"> = argmin</tspan><tspan font-size="13" dy="6">pk,hk</tspan></text>
<text class="sr" x="1268" y="1128" font-size="52">∑</text>
<text class="m" x="1247" y="1150" font-size="13" textLength="84" lengthAdjust="spacingAndGlyphs">(xi,yi)∈Sk</text>
<text class="m" x="1325" y="1117" textLength="359" lengthAdjust="spacingAndGlyphs">L(H(M(x<tspan font-size="14" dy="5">i</tspan><tspan dy="-5"> + p</tspan><tspan font-size="14" dy="5">k</tspan><tspan dy="-5">; θ); h</tspan><tspan font-size="14" dy="5">k</tspan><tspan dy="-5">), y</tspan><tspan font-size="14" dy="5">i</tspan><tspan dy="-5">)</tspan></text>
<text class="b" x="1009" y="1174" textLength="637" lengthAdjust="spacingAndGlyphs"><tspan font-style="italic">M</tspan>(<tspan font-style="italic">x</tspan><tspan font-size="14" dy="4">i</tspan><tspan dy="-4"> + </tspan><tspan font-style="italic">p</tspan><tspan font-size="14" dy="4">k</tspan><tspan dy="-4">; </tspan><tspan font-style="italic">θ</tspan>) is the output of the pre-trained backbone <tspan font-style="italic">M</tspan>, <tspan font-style="italic">H</tspan> is the</text>
<text class="b" x="1009" y="1201" textLength="689" lengthAdjust="spacingAndGlyphs">classification function using the classifier head <tspan font-style="italic">h</tspan><tspan font-size="14" dy="4">k</tspan><tspan dy="-4">, and </tspan><tspan font-style="italic">L</tspan> is the loss function</text>
<text class="b" x="1010" y="1231">-</text><text class="b" x="1032" y="1231" textLength="608" lengthAdjust="spacingAndGlyphs">Cluster-specific prompts {<tspan font-style="italic">p</tspan><tspan font-size="14" dy="4">1</tspan><tspan dy="-4">*, </tspan><tspan font-style="italic">p</tspan><tspan font-size="14" dy="4">2</tspan><tspan dy="-4">*, ..., </tspan><tspan font-style="italic">p</tspan><tspan font-size="14" dy="4">K</tspan><tspan dy="-4">*} and heads {</tspan><tspan font-style="italic">h</tspan><tspan font-size="14" dy="4">1</tspan><tspan dy="-4">*, </tspan><tspan font-style="italic">h</tspan><tspan font-size="14" dy="4">2</tspan><tspan dy="-4">*, ..., </tspan><tspan font-style="italic">h</tspan><tspan font-size="14" dy="4">K</tspan><tspan dy="-4">*}</tspan></text>

<!-- Figure 2 -->
<rect x="906" y="1392" width="123" height="37" rx="6" fill="#a9564a" stroke="#8a3e34" stroke-width="1.5"/>
<text class="sr" x="967" y="1418" font-size="21" font-weight="bold" fill="#fff" text-anchor="middle">Private data</text>
<g class="sr" fill="#e02020" font-size="20" text-anchor="middle">
<text x="957" y="1381">①</text><text x="1043" y="1381">②</text><text x="1187" y="1381">③</text><text x="1480" y="1314">①</text>
</g>
<g stroke="#f0a89c" stroke-width="3" fill="none" marker-end="url(#ar)">
<line x1="1012" y1="1388" x2="1055" y2="1313"/><line x1="1029" y1="1410" x2="1055" y2="1404"/><line x1="1015" y1="1429" x2="1055" y2="1522"/>
</g>
<rect x="1058" y="1289" width="86" height="44" rx="6" fill="#fff" stroke="#ffd966" stroke-width="1.5" stroke-dasharray="2,2"/>
<rect x="1058" y="1382" width="86" height="44" rx="6" fill="#fff" stroke="#3cb043" stroke-width="1.5" stroke-dasharray="2,2"/>
<rect x="1058" y="1493" width="86" height="45" rx="6" fill="#fff" stroke="#7030a0" stroke-width="1.5" stroke-dasharray="2,2"/>
<g class="sr" font-size="18" text-anchor="middle">
<text x="1101" y="1317">Cluster <tspan font-style="italic">S</tspan><tspan font-size="12" dy="4">1</tspan></text>
<text x="1101" y="1410">Cluster <tspan font-style="italic">S</tspan><tspan font-size="12" dy="4">2</tspan></text>
<text x="1101" y="1522">Cluster <tspan font-style="italic">S</tspan><tspan font-size="12" dy="4">K</tspan></text>
<text x="1101" y="1466" font-size="22">⋮</text><text x="1218" y="1475" font-size="22">⋮</text><text x="1322" y="1475" font-size="22">⋮</text>
</g>
<rect x="1176" y="1273" width="86" height="283" rx="12" fill="none" stroke="#aaa" stroke-width="1.3" stroke-dasharray="6,4"/>
<g stroke="#8c8c8c" stroke-width="2" fill="none" marker-end="url(#ak)">
<line x1="1144" y1="1311" x2="1196" y2="1311"/><line x1="1144" y1="1404" x2="1196" y2="1404"/><line x1="1144" y1="1515" x2="1196" y2="1515"/>
<line x1="1240" y1="1311" x2="1277" y2="1311"/><line x1="1240" y1="1404" x2="1277" y2="1404"/><line x1="1240" y1="1515" x2="1277" y2="1515"/>
<line x1="1382" y1="1311" x2="1420" y2="1311"/><line x1="1382" y1="1406" x2="1420" y2="1406"/><line x1="1382" y1="1510" x2="1420" y2="1510"/>
<line x1="1577" y1="1358" x2="1594" y2="1358"/><line x1="1577" y1="1402" x2="1606" y2="1402"/><line x1="1577" y1="1477" x2="1623" y2="1477"/>
<line x1="1668" y1="1418" x2="1694" y2="1418"/><line x1="1712" y1="1418" x2="1744" y2="1418"/>
</g>
<g stroke="#a8a8a8" stroke-width="4">
<line x1="1157" y1="1294" x2="1157" y2="1308"/><line x1="1150" y1="1301" x2="1164" y2="1301"/>
<line x1="1157" y1="1387" x2="1157" y2="1401"/><line x1="1150" y1="1394" x2="1164" y2="1394"/>
<line x1="1157" y1="1498" x2="1157" y2="1512"/><line x1="1150" y1="1505" x2="1164" y2="1505"/>
</g>
<g fill="#fff" stroke-width="5">
<rect x="1200" y="1293" width="37" height="36" stroke="#e9b44c"/>
<rect x="1200" y="1388" width="37" height="33" stroke="#4aa64e"/>
<rect x="1200" y="1499" width="37" height="33" stroke="#7d4aa0"/>
</g>
<g fill="none" stroke-width="2" stroke-dasharray="2,3">
<rect x="1200" y="1293" width="37" height="36" stroke="#c77"/><rect x="1200" y="1388" width="37" height="33" stroke="#88a"/><rect x="1200" y="1499" width="37" height="33" stroke="#9a8"/>
</g>
<g class="sr" font-size="17" text-anchor="middle">
<text x="1218" y="1347">Prompt <tspan font-weight="bold">p<tspan font-size="12" dy="3">1</tspan></tspan></text>
<text x="1218" y="1446">Prompt <tspan font-weight="bold">p<tspan font-size="12" dy="3">2</tspan></tspan></text>
<text x="1218" y="1552">Prompt <tspan font-weight="bold">p<tspan font-size="12" dy="3">K</tspan></tspan></text>
</g>
<rect x="1279" y="1289" width="86" height="44" rx="8" fill="#fff" stroke="#ffd966" stroke-width="2.5"/>
<rect x="1279" y="1382" width="86" height="44" rx="8" fill="#fff" stroke="#3cb043" stroke-width="2.5"/>
<rect x="1279" y="1493" width="86" height="45" rx="8" fill="#fff" stroke="#7030a0" stroke-width="2.5"/>
<g class="sr" font-size="16" text-anchor="middle">
<text x="1322" y="1307">Prompted</text><text x="1322" y="1326">Cluster <tspan font-style="italic">S̃</tspan><tspan font-size="11" dy="3">1</tspan></text>
<text x="1322" y="1400">Prompted</text><text x="1322" y="1419">Cluster <tspan font-style="italic">S̃</tspan><tspan font-size="11" dy="3">2</tspan></text>
<text x="1322" y="1511">Prompted</text><text x="1322" y="1530">Cluster <tspan font-style="italic">S̃</tspan><tspan font-size="11" dy="3">K</tspan></text>
</g>
<polygon points="1422,1311 1575,1346 1575,1491 1422,1528" fill="#dde9f7" stroke="#b4c9e6" stroke-width="2"/>
<text x="1451" y="1360" font-size="26" fill="#1a6bff" text-anchor="middle">❄</text>
<text class="sr" x="1498" y="1361" font-size="12" font-weight="bold" fill="#1a6bff" text-anchor="middle">Frozen</text>
<text class="sr" x="1491" y="1434" font-size="32" font-weight="bold" fill="#1f3864" text-anchor="middle" textLength="118" lengthAdjust="spacingAndGlyphs">Backbone</text>
<rect x="1451" y="1257" width="118" height="34" rx="6" fill="#4472c4" stroke="#2f5597"/>
<text class="sr" x="1510" y="1281" font-size="20" font-weight="bold" fill="#fff" text-anchor="middle">Public Data</text>
<path d="M1504,1291 L1518,1291 L1518,1314 L1526,1314 L1511,1330 L1496,1314 L1504,1314 Z" fill="#4472c4"/>
<rect x="1595" y="1348" width="40" height="93" fill="#fff2cc" stroke="#ffe699"/>
<rect x="1608" y="1356" width="38" height="103" fill="#e2f0d9" stroke="#70ad47"/>
<rect x="1625" y="1402" width="41" height="104" fill="#ccccff" stroke="#8e6fc0" stroke-width="1.5"/>
<text class="sr" x="1646" y="1462" font-size="17" font-weight="bold" text-anchor="middle">h<tspan font-size="12" dy="3">K</tspan></text>
<text class="sr" x="1632" y="1333" font-size="17" fill="#888" text-anchor="middle" font-weight="bold">Classifier Heads</text>
<text class="sr" x="1696" y="1424" font-size="21" font-style="italic" font-weight="bold">ŷ</text>
<text class="sr" x="1704" y="1445" font-size="16" text-anchor="middle">Output</text>
<text class="sr" x="1750" y="1424" font-size="17" font-weight="bold" fill="#1a1adc">Loss</text>
<polyline points="1767,1431 1767,1574 1219,1574 1219,1560" fill="none" stroke="#1a1adc" stroke-width="1.8" marker-end="url(#ab)"/>
<text class="sr" x="1365" y="1564" font-size="17" font-weight="bold" fill="#1a1adc" textLength="132" lengthAdjust="spacingAndGlyphs"><tspan fill="#e02020">③</tspan>Prompt Tuning</text>
<text class="cap" x="975" y="1605" textLength="740" lengthAdjust="spacingAndGlyphs">Figure 2: LMEraser training process: data partitioning, adaptive clustering, and prompt tuning</text>

<!-- Fig 3 -->
<g fill="none" stroke="#bbb"><rect x="951" y="1754" width="165" height="130"/><rect x="1170" y="1754" width="168" height="130"/><rect x="1389" y="1754" width="168" height="130"/><rect x="1607" y="1754" width="169" height="130"/></g>
<g stroke="#ececec">
<line x1="986" y1="1754" x2="986" y2="1884"/><line x1="1018" y1="1754" x2="1018" y2="1884"/><line x1="1049" y1="1754" x2="1049" y2="1884"/><line x1="1081" y1="1754" x2="1081" y2="1884"/>
<line x1="1205" y1="1754" x2="1205" y2="1884"/><line x1="1237" y1="1754" x2="1237" y2="1884"/><line x1="1268" y1="1754" x2="1268" y2="1884"/><line x1="1300" y1="1754" x2="1300" y2="1884"/>
<line x1="1424" y1="1754" x2="1424" y2="1884"/><line x1="1456" y1="1754" x2="1456" y2="1884"/><line x1="1487" y1="1754" x2="1487" y2="1884"/><line x1="1519" y1="1754" x2="1519" y2="1884"/>
<line x1="1642" y1="1754" x2="1642" y2="1884"/><line x1="1674" y1="1754" x2="1674" y2="1884"/><line x1="1705" y1="1754" x2="1705" y2="1884"/><line x1="1737" y1="1754" x2="1737" y2="1884"/>
</g>
<g fill="none" stroke-width="2">
<polyline stroke="#f5a623" points="955,1884 971,1859 986,1831 1002,1794 1018,1785 1033,1781 1049,1779 1065,1777 1081,1777 1096,1776 1112,1776"/>
<polyline stroke="#c0666f" points="955,1884 971,1771 986,1768 1002,1767 1018,1767 1033,1766 1049,1766 1065,1764 1081,1764 1096,1764 1112,1764"/>
<polyline stroke="#1f6fc0" points="955,1884 971,1767 986,1767 1002,1764 1018,1764 1033,1763 1049,1763 1065,1763 1081,1762 1096,1762 1112,1762"/>
<polyline stroke="#f5a623" points="1174,1884 1190,1882 1205,1882 1221,1881 1237,1880 1252,1879 1268,1879 1284,1878 1300,1878 1315,1878 1331,1878"/>
<polyline stroke="#c0666f" points="1174,1884 1190,1777 1205,1777 1221,1772 1237,1769 1252,1767 1268,1765 1284,1765 1300,1765 1315,1765 1331,1765"/>
<polyline stroke="#1f6fc0" points="1174,1884 1190,1780 1205,1773 1221,1770 1237,1769 1252,1767 1268,1767 1284,1767 1300,1767 1315,1767 1331,1767"/>
<polyline stroke="#f5a623" points="1393,1884 1409,1864 1424,1848 1440,1842 1456,1835 1471,1832 1487,1830 1503,1829 1519,1829 1534,1827 1550,1827"/>
<polyline stroke="#c0666f" points="1393,1884 1409,1795 1424,1782 1440,1775 1456,1774 1471,1767 1487,1770 1503,1767 1519,1764 1534,1764 1550,1762"/>
<polyline stroke="#1f6fc0" points="1393,1884 1409,1796 1424,1786 1440,1782 1456,1775 1471,1774 1487,1770 1503,1769 1519,1767 1534,1767 1550,1765"/>
<polyline stroke="#f5a623" points="1611,1884 1627,1878 1642,1878 1658,1877 1674,1877 1689,1877 1705,1876 1721,1876 1737,1876 1752,1876 1768,1876"/>
<polyline stroke="#c0666f" points="1611,1884 1627,1783 1634,1786 1658,1770 1674,1765 1689,1764 1705,1762 1721,1762 1737,1760 1752,1760 1768,1760"/>
<polyline stroke="#1f6fc0" points="1611,1884 1627,1804 1642,1798 1658,1791 1674,1782 1689,1780 1705,1778 1721,1777 1737,1775 1752,1774 1768,1774"/>
</g>
<g class="sr" font-size="15" text-anchor="middle">
<text x="1033" y="1751">CIFAR10</text><text x="1254" y="1751">CIFAR100</text><text x="1473" y="1751">SVHN</text><text x="1691" y="1751">GTSRB</text>
</g>
<g class="tk" text-anchor="end" font-size="10">
<text x="948" y="1887">0.0</text><text x="948" y="1861">0.2</text><text x="948" y="1835">0.4</text><text x="948" y="1809">0.6</text><text x="948" y="1783">0.8</text><text x="948" y="1757">1.0</text>
<text x="1167" y="1887">0.0</text><text x="1167" y="1855">0.2</text><text x="1167" y="1822">0.4</text><text x="1167" y="1790">0.6</text><text x="1167" y="1757">0.8</text>
<text x="1386" y="1887">0.0</text><text x="1386" y="1855">0.2</text><text x="1386" y="1822">0.4</text><text x="1386" y="1790">0.6</text><text x="1386" y="1757">0.8</text>
<text x="1604" y="1887">0.0</text><text x="1604" y="1855">0.2</text><text x="1604" y="1822">0.4</text><text x="1604" y="1790">0.6</text><text x="1604" y="1757">0.8</text>
</g>
<g class="tk" font-size="12" text-anchor="middle">
<text x="955" y="1898">0</text><text x="986" y="1898">10</text><text x="1018" y="1898">20</text><text x="1049" y="1898">30</text><text x="1081" y="1898">40</text><text x="1112" y="1898">50</text>
<text x="1174" y="1898">0</text><text x="1205" y="1898">10</text><text x="1237" y="1898">20</text><text x="1268" y="1898">30</text><text x="1300" y="1898">40</text><text x="1331" y="1898">50</text>
<text x="1393" y="1898">0</text><text x="1424" y="1898">10</text><text x="1456" y="1898">20</text><text x="1487" y="1898">30</text><text x="1519" y="1898">40</text><text x="1550" y="1898">50</text>
<text x="1611" y="1898">0</text><text x="1642" y="1898">10</text><text x="1674" y="1898">20</text><text x="1705" y="1898">30</text><text x="1737" y="1898">40</text><text x="1768" y="1898">50</text>
</g>
<g class="ax" font-size="14" text-anchor="middle">
<text x="1033" y="1914">Epoch</text><text x="1254" y="1914">Epoch</text><text x="1473" y="1914">Epoch</text><text x="1691" y="1914">Epoch</text>
<text transform="rotate(-90 926 1819)" x="926" y="1819">Accuracy</text><text transform="rotate(-90 1143 1819)" x="1143" y="1819">Accuracy</text>
<text transform="rotate(-90 1362 1819)" x="1362" y="1819">Accuracy</text><text transform="rotate(-90 1580 1819)" x="1580" y="1819">Accuracy</text>
</g>
<g font-family="Liberation Serif, serif" font-size="10">
<rect x="1010" y="1831" width="98" height="50" fill="#fff" stroke="#ddd"/>
<line x1="1015" y1="1842" x2="1032" y2="1842" stroke="#1f6fc0" stroke-width="2"/><text x="1037" y="1845">LMEraser</text>
<line x1="1015" y1="1857" x2="1032" y2="1857" stroke="#f5a623" stroke-width="2"/><text x="1037" y="1860">DAM-VP</text>
<line x1="1015" y1="1872" x2="1032" y2="1872" stroke="#c0666f" stroke-width="2"/><text x="1037" y="1875">Single Prompt</text>
<rect x="1232" y="1831" width="98" height="50" fill="#fff" stroke="#ddd"/>
<line x1="1237" y1="1842" x2="1254" y2="1842" stroke="#1f6fc0" stroke-width="2"/><text x="1259" y="1845">LMEraser</text>
<line x1="1237" y1="1857" x2="1254" y2="1857" stroke="#f5a623" stroke-width="2"/><text x="1259" y="1860">DAM-VP</text>
<line x1="1237" y1="1872" x2="1254" y2="1872" stroke="#c0666f" stroke-width="2"/><text x="1259" y="1875">Single Prompt</text>
<rect x="1451" y="1831" width="98" height="50" fill="#fff" stroke="#ddd"/>
<line x1="1456" y1="1842" x2="1473" y2="1842" stroke="#1f6fc0" stroke-width="2"/><text x="1478" y="1845">LMEraser</text>
<line x1="1456" y1="1857" x2="1473" y2="1857" stroke="#f5a623" stroke-width="2"/><text x="1478" y="1860">DAM-VP</text>
<line x1="1456" y1="1872" x2="1473" y2="1872" stroke="#c0666f" stroke-width="2"/><text x="1478" y="1875">Single Prompt</text>
<rect x="1670" y="1831" width="98" height="50" fill="#fff" stroke="#ddd"/>
<line x1="1675" y1="1842" x2="1692" y2="1842" stroke="#1f6fc0" stroke-width="2"/><text x="1697" y="1845">LMEraser</text>
<line x1="1675" y1="1857" x2="1692" y2="1857" stroke="#f5a623" stroke-width="2"/><text x="1697" y="1860">DAM-VP</text>
<line x1="1675" y1="1872" x2="1692" y2="1872" stroke="#c0666f" stroke-width="2"/><text x="1697" y="1875">Single Prompt</text>
</g>
<text class="b" x="973" y="1947" font-size="20" textLength="460" lengthAdjust="spacingAndGlyphs">Figure 3: Classification accuracy comparison on ViT-B-22K.</text>

<!-- Fig 5 -->
<rect x="970" y="1998" width="245" height="180" fill="none" stroke="#bbb"/>
<g stroke="#ececec"><line x1="1022" y1="1998" x2="1022" y2="2178"/><line x1="1069" y1="1998" x2="1069" y2="2178"/><line x1="1116" y1="1998" x2="1116" y2="2178"/><line x1="1163" y1="1998" x2="1163" y2="2178"/>
<line x1="970" y1="2138" x2="1215" y2="2138"/><line x1="970" y1="2098" x2="1215" y2="2098"/><line x1="970" y1="2058" x2="1215" y2="2058"/><line x1="970" y1="2018" x2="1215" y2="2018"/></g>
<g fill="none" stroke-width="2.5">
<polyline stroke="#8e7cc3" points="975,2174 998,2037 1022,2035 1045,2030 1069,2026 1092,2022 1116,2020 1139,2020 1163,2019 1186,2019 1210,2019"/>
<polyline stroke="#d9661f" points="975,2174 998,2040 1022,2038 1045,2032 1069,2028 1092,2024 1116,2022 1139,2022 1163,2022 1186,2022 1210,2022"/>
<polyline stroke="#1f6fc0" points="975,2174 998,2038 1022,2036 1045,2030 1069,2026 1092,2022 1116,2020 1139,2020 1163,2018 1186,2018 1210,2018"/>
<polyline stroke="#2a9d78" points="975,2174 998,2036 1022,2034 1045,2028 1069,2024 1092,2020 1116,2018 1139,2018 1163,2016 1186,2016 1210,2016"/>
</g>
<text class="sr" x="990" y="1995" font-size="20" textLength="225" lengthAdjust="spacingAndGlyphs">Skin Cancer (HAM1000)</text>
<g class="tk" text-anchor="end" font-size="12"><text x="966" y="2182">0.0</text><text x="966" y="2142">0.2</text><text x="966" y="2102">0.4</text><text x="966" y="2062">0.6</text><text x="966" y="2022">0.8</text></g>
<g class="tk" font-size="13" text-anchor="middle"><text x="975" y="2194">0</text><text x="1022" y="2194">10</text><text x="1069" y="2194">20</text><text x="1116" y="2194">30</text><text x="1163" y="2194">40</text><text x="1210" y="2194">50</text></g>
<text class="ax" x="1092" y="2213" text-anchor="middle">Epoch</text>
<text class="ax" transform="rotate(-90 935 2088)" x="935" y="2088" text-anchor="middle">Accuracy</text>
<g font-family="Liberation Serif, serif" font-size="11">
<rect x="972" y="2128" width="236" height="36" fill="#fff" stroke="#ddd"/>
<line x1="977" y1="2139" x2="997" y2="2139" stroke="#8e7cc3" stroke-width="2"/><text x="1003" y="2143">ViT-B-1K</text>
<line x1="1110" y1="2139" x2="1130" y2="2139" stroke="#d9661f" stroke-width="2"/><text x="1136" y="2143">Swin-B-1K</text>
<line x1="977" y1="2156" x2="997" y2="2156" stroke="#1f6fc0" stroke-width="2"/><text x="1003" y="2160">ViT-B-22K</text>
<line x1="1110" y1="2156" x2="1130" y2="2156" stroke="#2a9d78" stroke-width="2"/><text x="1136" y="2160">Swin-B-22K</text>
</g>

<!-- Fig 6 -->
<rect x="1279" y="1986" width="194" height="146" fill="none" stroke="#bbb"/>
<g stroke="#ececec"><line x1="1279" y1="2099" x2="1473" y2="2099"/><line x1="1279" y1="2065" x2="1473" y2="2065"/><line x1="1279" y1="2032" x2="1473" y2="2032"/><line x1="1279" y1="1998" x2="1473" y2="1998"/></g>
<g fill="#7ea7cf" stroke="#5a83ad" stroke-width="0.8">
<rect x="1288" y="2002" width="17" height="130"/><rect x="1320" y="2010" width="16" height="122"/><rect x="1352" y="2026" width="17" height="106"/>
<rect x="1385" y="2029" width="16" height="103"/><rect x="1417" y="2046" width="17" height="86"/><rect x="1449" y="2056" width="17" height="76"/>
</g>
<g class="tk" text-anchor="end" font-size="13"><text x="1275" y="2136">0.65</text><text x="1275" y="2103">0.67</text><text x="1275" y="2069">0.69</text><text x="1275" y="2036">0.71</text><text x="1275" y="2002">0.73</text></g>
<g class="tk" font-size="12" text-anchor="middle"><text x="1296" y="2146">0%</text><text x="1328" y="2146">10%</text><text x="1360" y="2146">20%</text><text x="1393" y="2146">30%</text><text x="1425" y="2146">40%</text><text x="1457" y="2146">50%</text></g>
<text class="ax" x="1376" y="2163" text-anchor="middle" font-size="14">Unlearning Ratio</text>
<text class="ax" transform="rotate(-90 1237 2059)" x="1237" y="2059" text-anchor="middle" font-size="17">Test Accuracy</text>
<rect x="1571" y="1988" width="188" height="138" fill="none" stroke="#bbb"/>
<g stroke="#e6e6e6" stroke-dasharray="3,2"><line x1="1571" y1="2112" x2="1759" y2="2112"/><line x1="1571" y1="2089" x2="1759" y2="2089"/><line x1="1571" y1="2065" x2="1759" y2="2065"/><line x1="1571" y1="2041" x2="1759" y2="2041"/><line x1="1571" y1="2017" x2="1759" y2="2017"/><line x1="1618" y1="1988" x2="1618" y2="2126"/><line x1="1665" y1="1988" x2="1665" y2="2126"/><line x1="1712" y1="1988" x2="1712" y2="2126"/></g>
<polyline points="1585,1996 1610,1994 1650,2022 1689,2043 1724,2101 1751,2124" fill="none" stroke="#1f6fc0" stroke-width="2"/>
<g fill="#1f6fc0"><circle cx="1585" cy="1996" r="3.5"/><circle cx="1610" cy="1994" r="3.5"/><circle cx="1650" cy="2022" r="3.5"/><circle cx="1689" cy="2043" r="3.5"/><circle cx="1724" cy="2101" r="3.5"/><circle cx="1751" cy="2124" r="3.5"/></g>
<g class="tk" text-anchor="end" font-size="13"><text x="1567" y="2116">0.69</text><text x="1567" y="2093">0.70</text><text x="1567" y="2069">0.71</text><text x="1567" y="2045">0.72</text><text x="1567" y="2021">0.73</text><text x="1567" y="1997">0.74</text></g>
<g class="tk" font-size="12" text-anchor="middle"><text x="1571" y="2146">0</text><text x="1618" y="2146">200</text><text x="1665" y="2146">400</text><text x="1712" y="2146">600</text><text x="1759" y="2146">800</text></g>
<text class="ax" x="1665" y="2163" text-anchor="middle" font-size="14">Number of Prompts</text>
<text class="ax" transform="rotate(-90 1530 2059)" x="1530" y="2059" text-anchor="middle" font-size="17">Test Accuracy</text>

<text class="cap" x="1282" y="2196" textLength="459" lengthAdjust="spacingAndGlyphs">Figure 6: LMEraser's test accuracy with various unlearning</text>
<text class="cap" x="1279" y="2221" textLength="341" lengthAdjust="spacingAndGlyphs">privacy data ratios and number of prompts</text>
<text class="b" x="960" y="2254" font-size="20" textLength="281" lengthAdjust="spacingAndGlyphs">Figure 5: Test accuracy of LMEraser</text>
<text class="b" x="960" y="2281" font-size="20" textLength="236" lengthAdjust="spacingAndGlyphs">on medical dataset HAM1000</text>
<text class="b" x="1282" y="2257">•</text><text class="b" x="1302" y="2257" textLength="407" lengthAdjust="spacingAndGlyphs">LMEraser maintains strong accuracy despite</text>
<text class="b" x="1305" y="2284" textLength="266" lengthAdjust="spacingAndGlyphs">removing 50% of private data</text>

<!-- Fig 7 -->
<g font-family="Liberation Serif, serif" font-size="16">
<rect x="954" y="2350" width="457" height="58" fill="#fff" stroke="#e5e5e5"/>
<rect x="960" y="2358" width="35" height="14" fill="#a6d9cf" stroke="#7bb"/><text x="1012" y="2371">Retrain</text>
<rect x="1098" y="2358" width="34" height="14" fill="#f4968c" stroke="#d77"/><text x="1150" y="2371">Single Prompt</text>
<rect x="1287" y="2358" width="35" height="14" fill="#9dbbd9" stroke="#6f95bd"/><text x="1339" y="2371">LMEraser</text>
<rect x="960" y="2383" width="35" height="14" fill="#e8e0dc" stroke="#bbb"/><text x="1012" y="2396">SISA</text>
<rect x="1098" y="2383" width="34" height="14" fill="#fdd49e" stroke="#e0b070"/><text x="1150" y="2396">DAM-VP</text>
</g>
<rect x="980" y="2420" width="190" height="152" fill="none" stroke="#bbb"/>
<rect x="1221" y="2420" width="187" height="152" fill="none" stroke="#bbb"/>
<g stroke="#ececec"><line x1="980" y1="2504" x2="1170" y2="2504"/><line x1="980" y1="2433" x2="1170" y2="2433"/><line x1="1221" y1="2515" x2="1408" y2="2515"/><line x1="1221" y1="2456" x2="1408" y2="2456"/></g>
<g stroke-width="0.8">
<g fill="#a6d9cf" stroke="#6aa"><rect x="989" y="2427" width="10" height="145"/><rect x="1052" y="2427" width="10" height="145"/><rect x="1114" y="2426" width="10" height="146"/>
<rect x="1230" y="2456" width="9" height="116"/><rect x="1293" y="2456" width="9" height="116"/><rect x="1356" y="2473" width="9" height="99"/></g>
<g fill="#e8e0dc" stroke="#aaa"><rect x="999" y="2463" width="10" height="109"/><rect x="1062" y="2463" width="10" height="109"/><rect x="1124" y="2463" width="10" height="109"/>
<rect x="1239" y="2427" width="9" height="145"/><rect x="1302" y="2427" width="9" height="145"/><rect x="1365" y="2444" width="9" height="128"/></g>
<g fill="#f4968c" stroke="#c66"><rect x="1009" y="2518" width="10" height="54"/><rect x="1072" y="2512" width="10" height="60"/><rect x="1134" y="2527" width="9" height="45"/>
<rect x="1248" y="2564" width="9" height="8"/><rect x="1311" y="2564" width="9" height="8"/><rect x="1374" y="2564" width="9" height="8"/></g>
<g fill="#fdd49e" stroke="#d9a860"><rect x="1019" y="2554" width="9" height="18"/><rect x="1082" y="2548" width="9" height="24"/><rect x="1143" y="2564" width="9" height="8"/>
<rect x="1257" y="2541" width="10" height="31"/><rect x="1320" y="2541" width="10" height="31"/><rect x="1383" y="2541" width="10" height="31"/></g>
<g fill="#9dbbd9" stroke="#6f95bd"><rect x="1028" y="2553" width="10" height="19"/><rect x="1091" y="2548" width="10" height="24"/><rect x="1152" y="2564" width="9" height="8"/>
<rect x="1267" y="2534" width="9" height="38"/><rect x="1330" y="2534" width="9" height="38"/><rect x="1393" y="2534" width="9" height="38"/></g>
</g>
<g class="tk" font-size="13" text-anchor="end"><text x="976" y="2508">10⁵</text><text x="976" y="2437">10⁷</text><text x="1217" y="2519">10⁶</text><text x="1217" y="2460">10⁸</text></g>
<text class="sr" x="981" y="2586" font-size="14" textLength="188" lengthAdjust="spacingAndGlyphs">CIFAR10 SVHN  GTSRB</text>
<text class="sr" x="1075" y="2604" font-size="14" text-anchor="middle">Datasets</text>
<text class="sr" x="1222" y="2586" font-size="14" textLength="186" lengthAdjust="spacingAndGlyphs">ViT-B  Swin-BResNet50</text>
<text class="sr" x="1314" y="2604" font-size="14" text-anchor="middle">Model Type</text>
<text class="ax" transform="rotate(-90 948 2496)" x="948" y="2496" text-anchor="middle" font-size="16">Retrain Sample Num</text>
<text class="ax" transform="rotate(-90 1188 2496)" x="1188" y="2496" text-anchor="middle" font-size="16">Retrain Params Num</text>
<text class="b" x="1437" y="2443">•</text><text class="b" x="1457" y="2443" textLength="243" lengthAdjust="spacingAndGlyphs">LMEraser reduces affected</text>
<text class="b" x="1457" y="2472" textLength="232" lengthAdjust="spacingAndGlyphs">training data by 100x and</text>
<text class="b" x="1457" y="2499" textLength="298" lengthAdjust="spacingAndGlyphs">affected model params by 1000x</text>
<text class="b" x="1457" y="2527" textLength="295" lengthAdjust="spacingAndGlyphs">compared to retraining and SISA</text>
<text class="b" x="975" y="2632" font-size="20" textLength="559" lengthAdjust="spacingAndGlyphs">Figure 7: LMEraser vs. Baselines: affected training data and Model size</text>

<!-- footer -->
<text x="64" y="2705" font-family="Liberation Sans, sans-serif" font-size="19" font-weight="bold" fill="#1a1a1a" textLength="122" lengthAdjust="spacingAndGlyphs">References</text>
<g font-family="Liberation Sans, sans-serif" font-size="15" fill="#1a1a1a">
<text x="58" y="2743" textLength="1480" lengthAdjust="spacingAndGlyphs">[1] Wu, Y., Wen, R., Backes, M., Berrang, P., Humbert, M., Shen, Y., and Zhang, Y. (2023b). Quantifying privacy risks of prompts in visual prompt learning. arXiv preprint arXiv:2310.11970.</text>
<text x="58" y="2768" textLength="1236" lengthAdjust="spacingAndGlyphs">[2] Huang, Q., Dong, X., Chen, D., Zhang, W., Wang, F., Hua, G., and Yu, N. (2023). Diversity-aware meta visual prompting. In CVPR, pages 10878-10887.</text>
<text x="58" y="2792" textLength="735" lengthAdjust="spacingAndGlyphs">[3] Mullner, D. (2011). Modern hierarchical, agglomerative clustering algorithms. arXiv preprint arXiv:1109.2378.</text>
</g>
<polygon points="1672,2698 1822,2716 1822,2786 1700,2780" fill="#8e1d5e"/>
<polygon points="1700,2720 1822,2716 1822,2786 1700,2780" fill="#b0276f"/>
<text x="1706" y="2768" font-family="Liberation Sans, sans-serif" font-size="40" font-style="italic" fill="#fff" textLength="100" lengthAdjust="spacingAndGlyphs">CityU</text>
<text x="1614" y="2799" font-family="Liberation Sans, Noto Sans CJK TC, sans-serif" font-size="13" fill="#333" textLength="150" lengthAdjust="spacingAndGlyphs">香港城市大學</text>
<text x="1610" y="2825" font-family="Liberation Sans, sans-serif" font-size="11" fill="#333" textLength="190" lengthAdjust="spacingAndGlyphs">City University of Hong Kong</text>
</g>
</svg>
</body></html>
